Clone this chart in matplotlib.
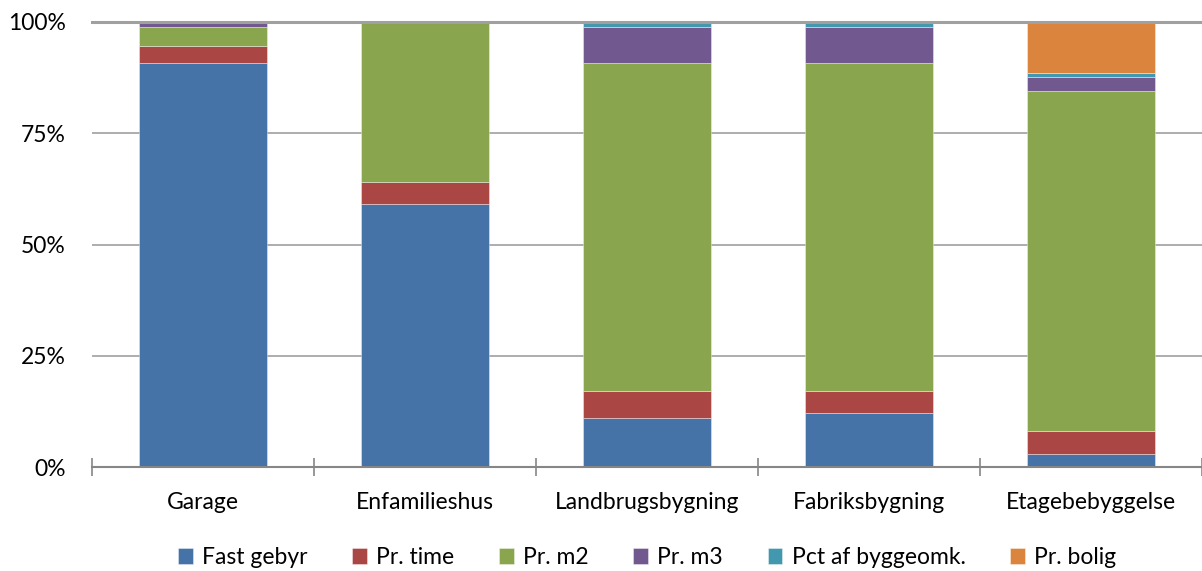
import numpy as np
import matplotlib
matplotlib.use('Agg')
import matplotlib.pyplot as plt
from matplotlib.ticker import FixedLocator, NullFormatter

plt.rcParams['font.family'] = ['Lato', 'DejaVu Sans']

categories = ["Garage", "Enfamilieshus", "Landbrugsbygning", "Fabriksbygning", "Etagebebyggelse"]
series_names = ["Fast gebyr", "Pr. time", "Pr. m2", "Pr. m3", "Pct af byggeomk.", "Pr. bolig"]
colors = ["#4572A7", "#AA4643", "#89A54E", "#71588F", "#4198AF", "#DB843D"]

# shares in percent
fast_gebyr = [90.7, 59.1, 11.1, 12.1, 2.9]
pr_time = [4.0, 5.0, 6.0, 5.0, 5.1]
pr_m2 = [4.2, 35.9, 73.6, 73.6, 76.6]
pr_m3 = [1.1, 0.0, 8.1, 8.1, 3.0]
pct_byggeomk = [0.0, 0.0, 1.2, 1.2, 1.0]
pr_bolig = [0.0, 0.0, 0.0, 0.0, 11.4]

series = [fast_gebyr, pr_time, pr_m2, pr_m3, pct_byggeomk, pr_bolig]

fig = plt.figure(figsize=(12.02, 5.71), dpi=100)
ax = fig.add_axes([0.0765, 0.182, 0.9235, 0.7795])

x = np.arange(len(categories))
bottom = np.zeros(len(categories))
for name, vals, col in zip(series_names, series, colors):
    vals = np.array(vals)
    ax.bar(x, vals, 0.577, bottom=bottom, color=col, label=name,
           edgecolor=(1, 1, 1, 0.45), linewidth=0.6, zorder=2)
    bottom += vals

ax.set_xlim(-0.5, len(categories) - 0.5)
ax.set_ylim(0, 100)
ax.set_yticks([0, 25, 50, 75, 100])
ax.set_yticklabels(["0%", "25%", "50%", "75%", "100%"], fontsize=16.5)
ax.tick_params(axis='y', length=0, pad=19)
ax.yaxis.grid(True, color='#a0a0a0', linewidth=1.2, zorder=0)
ax.set_axisbelow(True)

ax.set_xticks(x)
ax.set_xticklabels(categories, fontsize=16.5)
ax.tick_params(axis='x', which='major', length=0, pad=18)
ax.xaxis.set_minor_locator(FixedLocator(np.arange(-0.5, len(categories), 1.0)))
ax.xaxis.set_minor_formatter(NullFormatter())
ax.tick_params(axis='x', which='minor', direction='inout', length=13, width=1.2, color='#868686')

for s in ['left', 'right', 'top']:
    ax.spines[s].set_visible(False)
ax.spines['bottom'].set_color('#868686')
ax.spines['bottom'].set_linewidth(1.5)
ax.axhline(100, color='#a0a0a0', linewidth=2.2, zorder=3, clip_on=False)

ax.legend(loc='center', bbox_to_anchor=(0.5, -0.203), ncol=6, frameon=False,
          fontsize=16.5, handlelength=0.65, handleheight=0.65, handletextpad=0.4,
          columnspacing=1.95, borderpad=0)

fig.savefig('out.png', dpi=100, facecolor='white')
